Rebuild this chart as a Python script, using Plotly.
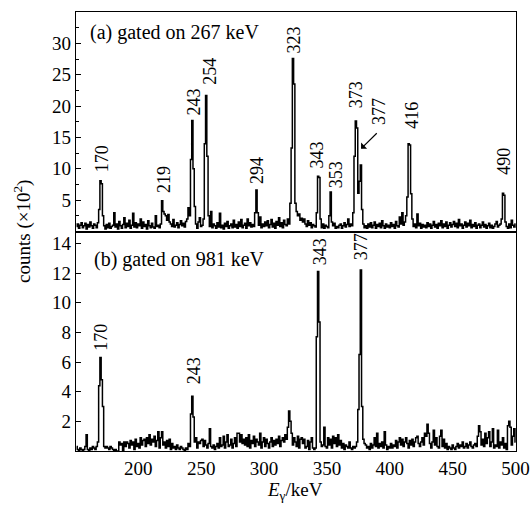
import plotly.graph_objects as go

# Energy bins (keV), 1 keV wide
energy = list(range(151, 501))

# (a) gated on 267 keV, counts in units of 10^2
counts_a = [
    0.8,1.2,0.5,1.0,1.4,0.6,0.9,1.3,0.4,1.1,   # 151-160
    0.7,1.5,0.9,0.5,1.2,1.0,0.6,1.4,3.5,8.1,   # 161-170
    7.6,2.5,0.9,0.4,1.1,0.6,1.3,0.5,0.8,1.0,   # 171-180
    3.0,0.7,1.2,0.4,1.6,0.9,0.5,1.1,2.2,0.6,   # 181-190
    1.3,0.8,1.8,0.5,1.0,2.9,0.7,1.4,0.6,1.2,   # 191-200
    0.9,2.0,0.5,1.5,0.8,1.1,0.4,1.7,0.9,0.6,   # 201-210
    1.3,0.7,0.5,2.5,0.8,1.0,0.6,1.2,4.9,3.2,   # 211-220
    2.8,2.5,1.8,2.7,1.5,1.2,0.8,1.9,0.7,1.0,   # 221-230
    1.4,0.6,1.1,1.7,0.9,1.3,0.7,1.6,2.0,3.8,   # 231-240
    2.5,11.5,17.7,10.0,4.0,1.2,0.5,1.5,2.2,0.8,  # 241-250
    1.0,2.0,14.0,21.7,12.0,2.5,0.8,3.2,0.6,1.2,  # 251-260
    0.9,0.5,1.4,0.7,2.9,0.6,1.0,0.4,1.3,0.8,   # 261-270
    1.6,0.5,0.9,1.2,0.6,1.8,0.7,1.1,0.5,1.5,   # 271-280
    0.8,1.9,0.6,1.0,1.3,0.5,2.0,0.9,1.4,0.7,   # 281-290
    1.1,0.8,3.0,6.6,3.0,1.0,2.3,0.6,1.2,0.8,   # 291-300
    1.5,0.9,1.7,0.6,1.1,1.9,0.7,1.3,0.5,1.6,   # 301-310
    1.0,2.2,0.8,1.4,0.6,1.8,1.1,0.9,2.0,1.2,   # 311-320
    4.5,13.3,27.6,23.5,4.5,3.2,2.5,2.8,1.8,2.1,  # 321-330
    1.5,2.0,1.2,0.8,1.7,1.0,1.4,0.6,1.1,0.9,   # 331-340
    0.7,3.0,8.8,8.6,2.0,0.6,1.2,0.5,1.0,0.8,   # 341-350
    0.6,2.5,6.3,1.5,0.9,1.3,0.5,0.8,0.6,1.0,   # 351-360
    1.2,0.5,0.9,1.4,0.7,1.1,2.0,0.8,1.2,0.9,   # 361-370
    3.0,12.0,17.6,16.5,6.1,8.0,10.6,3.5,1.2,0.6,  # 371-380
    0.9,0.5,1.2,0.7,1.4,0.6,1.0,1.5,0.5,1.1,   # 381-390
    0.8,1.3,0.6,1.7,0.9,0.5,1.2,0.7,1.0,0.6,   # 391-400
    1.4,0.8,1.1,0.5,1.6,0.9,0.7,2.3,1.2,3.0,   # 401-410
    1.0,1.5,2.5,5.5,14.0,13.8,6.0,2.0,0.8,1.2,  # 411-420
    0.6,2.8,0.9,1.3,0.5,1.1,0.7,1.0,0.6,1.4,   # 421-430
    0.8,1.2,0.5,1.0,1.6,0.7,1.1,0.5,1.3,0.9,   # 431-440
    1.7,0.6,1.2,0.8,1.5,0.5,1.0,1.4,0.7,1.1,   # 441-450
    1.6,0.8,1.3,0.6,1.9,0.9,1.2,0.5,1.0,1.5,   # 451-460
    0.7,1.3,0.9,1.8,0.6,1.1,0.8,1.4,0.5,1.0,   # 461-470
    1.2,0.6,1.0,1.5,0.7,1.1,0.5,0.9,1.3,0.6,   # 471-480
    1.0,0.5,0.8,1.2,1.6,0.7,1.0,1.2,2.0,6.1,   # 481-490
    5.8,1.5,0.8,0.5,1.2,0.6,1.8,1.0,0.7,1.2,   # 491-500
]

# (b) gated on 981 keV, counts in units of 10^2
counts_b = [
    0.3,0.1,0.0,0.2,0.1,0.0,0.1,0.3,1.1,0.1,   # 151-160
    0.0,0.2,0.1,0.3,0.2,0.1,0.3,0.6,4.4,6.3,   # 161-170
    4.8,3.0,0.3,0.2,0.3,0.2,0.1,0.3,0.2,0.1,   # 171-180
    0.0,0.1,0.0,0.0,0.6,0.4,0.5,0.0,0.6,0.3,   # 181-190
    0.6,0.5,0.2,0.7,0.4,0.6,0.1,0.8,0.3,0.5,   # 191-200
    0.2,0.9,0.4,0.7,0.8,0.3,0.9,0.5,1.1,0.4,   # 201-210
    0.8,0.6,1.0,0.3,0.7,1.3,0.2,0.9,1.3,0.4,   # 211-220
    0.6,0.2,0.7,0.3,0.8,0.1,0.5,0.2,0.3,0.1,   # 221-230
    0.4,0.2,0.1,0.3,0.2,0.1,0.0,0.2,0.1,0.5,   # 231-240
    0.3,2.5,3.7,2.3,0.6,0.9,0.2,0.6,0.5,0.7,   # 241-250
    0.8,0.3,0.7,0.4,0.2,0.5,1.5,0.3,0.2,0.4,   # 251-260
    0.1,0.3,0.5,0.2,0.9,0.3,0.4,1.0,0.2,0.6,   # 261-270
    1.1,0.3,0.4,0.8,0.2,0.5,0.9,0.3,1.2,1.2,   # 271-280
    0.6,1.1,0.5,0.8,0.4,0.9,0.3,1.1,0.2,0.7,   # 281-290
    0.5,1.0,0.3,0.8,0.6,0.4,1.2,0.2,0.6,0.9,   # 291-300
    0.3,0.8,0.5,0.2,0.6,0.9,0.3,0.7,0.4,0.8,   # 301-310
    0.5,1.0,0.3,0.7,0.9,0.6,1.1,0.8,1.6,2.7,   # 311-320
    2.0,1.2,0.4,0.9,0.6,0.3,1.0,0.2,0.8,0.9,   # 321-330
    0.5,0.8,0.2,0.3,0.7,0.1,0.6,0.9,0.2,0.1,   # 331-340
    0.2,7.7,12.1,8.7,0.6,0.3,0.4,1.6,0.3,0.2,  # 341-350
    0.9,0.4,0.8,0.2,1.0,0.5,0.9,0.3,1.1,0.4,   # 351-360
    0.7,0.2,0.5,0.1,0.4,0.3,0.2,0.6,0.2,0.1,   # 361-370
    0.3,0.2,0.3,0.6,2.8,6.5,12.2,3.0,0.8,0.5,  # 371-380
    0.4,0.2,0.3,0.1,0.5,0.2,0.4,0.9,0.3,1.2,   # 381-390
    0.2,0.5,0.3,0.6,0.2,1.3,0.4,0.1,0.3,0.2,   # 391-400
    0.5,0.2,0.4,0.3,0.7,0.2,0.6,0.9,0.4,0.8,   # 401-410
    0.3,0.6,0.9,0.5,0.2,0.7,0.4,0.8,0.3,0.6,   # 411-420
    0.9,1.0,0.5,0.3,0.6,0.9,0.4,1.2,1.0,1.8,   # 421-430
    1.2,0.5,0.2,0.6,1.4,0.4,0.9,0.3,0.2,1.0,   # 431-440
    1.4,0.3,0.8,0.2,0.5,0.1,0.3,0.2,0.1,0.4,   # 441-450
    0.2,0.1,0.3,0.5,0.2,0.4,0.3,0.6,0.2,0.3,   # 451-460
    0.5,0.2,0.4,0.6,0.3,0.2,0.4,0.5,0.3,1.0,   # 461-470
    1.7,1.3,0.4,0.8,0.3,1.2,0.5,0.9,1.3,0.3,   # 471-480
    0.6,1.5,0.2,0.4,0.3,1.4,0.2,0.6,0.4,0.9,   # 481-490
    0.2,0.5,0.1,1.7,2.0,1.6,0.4,1.0,1.5,0.6,   # 491-500
]

# Peak labels: (text, label x in keV, label bottom y)
labels_a = [("170", 171.5, 9.1), ("219", 220.0, 5.8), ("243", 244.0, 18.2),
            ("254", 257.5, 23.1), ("294", 294.5, 7.2), ("323", 323.5, 28.1),
            ("343", 342.0, 9.8), ("353", 357.0, 6.6), ("373", 373.3, 19.3),
            ("377", 391.5, 16.6), ("416", 417.3, 16.1), ("490", 491.0, 8.7)]
labels_b = [("170", 170.4, 6.6), ("243", 244.3, 4.4),
            ("343", 344.2, 12.4), ("377", 377.2, 12.7)]
arrow_377 = dict(tip=(377.1, 13.2), tail=(390.8, 15.9))

yticks_a = [5, 10, 15, 20, 25, 30]
yticks_b = [2, 4, 6, 8, 10, 12, 14]
xticks = [200, 250, 300, 350, 400, 450, 500]

FONT = "Liberation Serif, Times New Roman, serif"

fig = go.Figure()
fig.add_trace(go.Scatter(x=energy, y=counts_a, mode="lines", line_shape="hvh",
                         line=dict(color="black", width=1.5), xaxis="x2", yaxis="y2",
                         showlegend=False, hoverinfo="skip"))
fig.add_trace(go.Scatter(x=energy, y=counts_b, mode="lines", line_shape="hvh",
                         line=dict(color="black", width=1.5), xaxis="x", yaxis="y",
                         showlegend=False, hoverinfo="skip"))

ann = []
for t, x, y in labels_a:
    ann.append(dict(text=t, x=x, y=y, xref="x2", yref="y2", textangle=-90,
                    xanchor="center", yanchor="bottom", showarrow=False,
                    font=dict(size=18, family=FONT, color="black")))
for t, x, y in labels_b:
    ann.append(dict(text=t, x=x, y=y, xref="x", yref="y", textangle=-90,
                    xanchor="center", yanchor="bottom", showarrow=False,
                    font=dict(size=18, family=FONT, color="black")))
ann.append(dict(text="", x=arrow_377["tip"][0], y=arrow_377["tip"][1],
                ax=arrow_377["tail"][0], ay=arrow_377["tail"][1],
                xref="x2", yref="y2", axref="x2", ayref="y2", showarrow=True,
                arrowhead=1, arrowsize=1.2, arrowwidth=1.2, arrowcolor="black"))
ann.append(dict(text="(a) gated on 267 keV", x=0.027, y=0.954, xref="paper", yref="paper",
                xanchor="left", yanchor="middle", showarrow=False,
                font=dict(size=20, family=FONT, color="black")))
ann.append(dict(text="(b) gated on 981 keV", x=0.036, y=0.436, xref="paper", yref="paper",
                xanchor="left", yanchor="middle", showarrow=False,
                font=dict(size=20, family=FONT, color="black")))
ann.append(dict(text="counts (\u00d710<sup>2</sup>)", x=-0.123, y=0.501, xref="paper", yref="paper",
                xanchor="center", yanchor="middle", textangle=-90, showarrow=False,
                font=dict(size=19, family=FONT, color="black")))
ann.append(dict(text="<i>E</i><sub>\u03b3</sub>/keV", x=0.498, y=-0.09, xref="paper", yref="paper",
                xanchor="center", yanchor="middle", showarrow=False,
                font=dict(size=19, family=FONT, color="black")))

axis_common = dict(showline=True, mirror=True, linecolor="black", linewidth=1.3,
                   showgrid=False, zeroline=False, automargin=False)

fig.update_layout(
    width=532, height=510,
    margin=dict(l=76, r=16, t=12, b=59),
    paper_bgcolor="white", plot_bgcolor="white",
    font=dict(family=FONT, color="black"),
    xaxis=dict(domain=[0, 1], range=[150.5, 500.3], anchor="y", tickvals=xticks,
               ticks="", tickfont=dict(size=19, family=FONT), **axis_common),
    xaxis2=dict(domain=[0, 1], range=[150.5, 500.3], anchor="y2", matches="x",
                showticklabels=False, ticks="", **axis_common),
    yaxis=dict(domain=[0, 0.5], range=[0, 14.8], anchor="x", tickvals=yticks_b,
               ticks="inside", ticklen=5, tickcolor="black",
               tickfont=dict(size=19, family=FONT), **axis_common),
    yaxis2=dict(domain=[0.5, 1], range=[0, 35], anchor="x2", tickvals=yticks_a,
                ticks="inside", ticklen=5, tickcolor="black",
                minor=dict(dtick=2.5, tick0=0, ticks="inside", ticklen=3, tickcolor="black"),
                tickfont=dict(size=19, family=FONT), **axis_common),
    annotations=ann,
)

fig.write_html("out.html")
